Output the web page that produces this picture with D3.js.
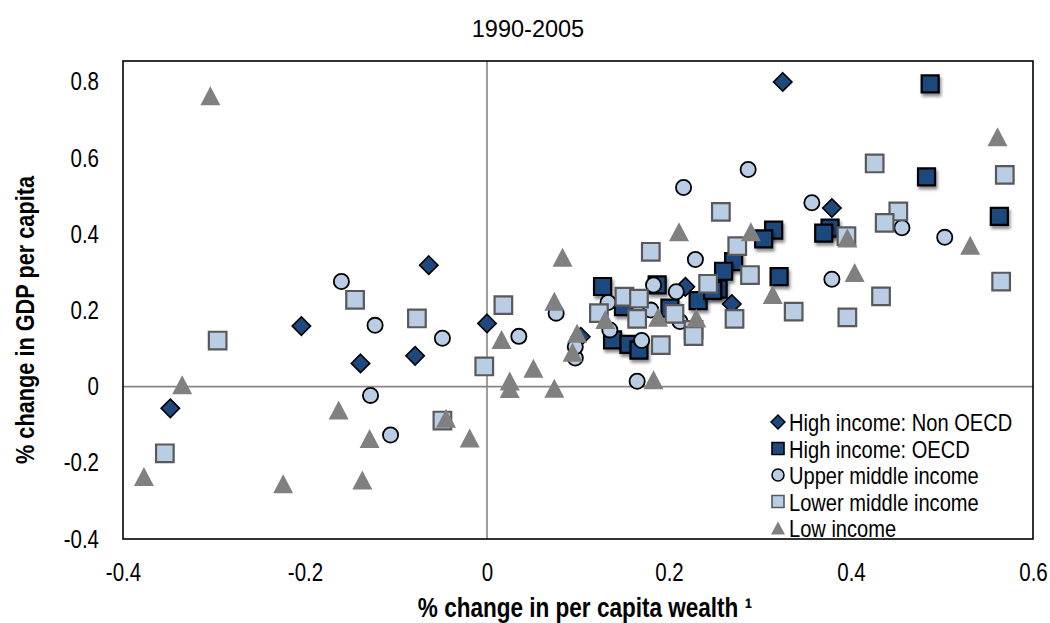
<!DOCTYPE html>
<html>
<head>
<meta charset="utf-8">
<script src="https://cdn.jsdelivr.net/npm/d3@7"></script>
<style>
  body { margin: 0; background: #fff; }
  svg text { fill: #000; }
</style>
</head>
<body>
<div id="chart"></div>
<script>
// chart values
const titleText = "1990-2005";
const xTicks = [-0.4, -0.2, 0, 0.2, 0.4, 0.6];
const xTickLabels = ["-0.4", "-0.2", "0", "0.2", "0.4", "0.6"];
const yTicks = [-0.4, -0.2, 0, 0.2, 0.4, 0.6, 0.8];
const yTickLabels = ["-0.4", "-0.2", "0", "0.2", "0.4", "0.6", "0.8"];
const seriesNames = ["High income: Non OECD", "High income: OECD", "Upper middle income", "Lower middle income", "Low income"];

const nonOecd = [
  [0.325, 0.800], [0.379, 0.469], [0.218, 0.262], [0.269, 0.217], [0.103, 0.131],
  [-0.064, 0.319], [-0.204, 0.159], [-0.139, 0.061], [-0.079, 0.081], [0.000, 0.166],
  [-0.348, -0.057]
];
const oecd = [
  [0.487, 0.795], [0.483, 0.551], [0.563, 0.447], [0.315, 0.411], [0.304, 0.388],
  [0.377, 0.416], [0.370, 0.403], [0.321, 0.289], [0.271, 0.328], [0.260, 0.303],
  [0.254, 0.256], [0.232, 0.226], [0.201, 0.206], [0.127, 0.263], [0.150, 0.210],
  [0.138, 0.123], [0.156, 0.111], [0.167, 0.096], [0.187, 0.267], [0.248, 0.253]
];
const upperMiddle = [
  [0.287, 0.570], [0.216, 0.523], [0.357, 0.483], [0.456, 0.417], [0.503, 0.392],
  [0.379, 0.282], [0.229, 0.334], [0.183, 0.267], [0.208, 0.249], [0.133, 0.221],
  [0.135, 0.149], [0.170, 0.121], [0.165, 0.014], [0.097, 0.075], [0.097, 0.105],
  [0.076, 0.193], [0.035, 0.132], [-0.049, 0.127], [-0.123, 0.161], [-0.160, 0.276],
  [-0.128, -0.023], [-0.106, -0.127], [0.212, 0.171], [0.180, 0.201]
];
const lowerMiddle = [
  [0.426, 0.586], [0.569, 0.556], [0.452, 0.460], [0.437, 0.430], [0.395, 0.395],
  [0.257, 0.459], [0.275, 0.369], [0.289, 0.293], [0.180, 0.354], [0.243, 0.270],
  [0.151, 0.236], [0.167, 0.231], [0.123, 0.193], [0.165, 0.178], [0.206, 0.191],
  [0.227, 0.149], [0.227, 0.133], [0.272, 0.178], [0.191, 0.109], [0.337, 0.197],
  [0.396, 0.182], [0.433, 0.237], [0.565, 0.276], [0.018, 0.214], [-0.003, 0.053],
  [-0.077, 0.179], [-0.145, 0.228], [-0.296, 0.121], [-0.354, -0.175], [-0.049, -0.089]
];
const lowIncome = [
  [-0.304, 0.764], [0.561, 0.656], [0.531, 0.371], [0.396, 0.390], [0.404, 0.300],
  [0.314, 0.242], [0.290, 0.407], [0.211, 0.407], [0.230, 0.180], [0.188, 0.182],
  [0.130, 0.176], [0.099, 0.140], [0.094, 0.090], [0.183, 0.018], [0.083, 0.340],
  [0.074, 0.224], [0.016, 0.124], [0.051, 0.048], [0.025, 0.015], [0.025, -0.005],
  [0.074, -0.004], [-0.019, -0.135], [-0.045, -0.083], [-0.129, -0.136], [-0.163, -0.061],
  [-0.137, -0.245], [-0.224, -0.255], [-0.377, -0.236], [-0.335, 0.005]
];

const W = 1050, H = 623;
const plot = { left: 123, right: 1033, top: 61, bottom: 539 };
// no narrow face installed, so Liberation Sans squeezed horizontally
const sans = "'Liberation Sans',Arial,sans-serif";
const squeeze = 0.82;

const svg = d3.select("#chart").append("svg")
  .attr("width", W).attr("height", H);

// soft shadow under the dark squares
const filt = svg.append("defs").append("filter").attr("id", "shadow")
  .attr("x", "-50%").attr("y", "-50%").attr("width", "200%").attr("height", "200%");
filt.append("feDropShadow").attr("dx", 1.5).attr("dy", 3).attr("stdDeviation", 1.8)
  .attr("flood-color", "#000").attr("flood-opacity", 0.45);

const x = d3.scaleLinear().domain([-0.4, 0.6]).range([plot.left, plot.right]);
const y = d3.scaleLinear().domain([-0.4, 0.855]).range([plot.bottom, plot.top]);

// zero lines
svg.append("line")
  .attr("x1", plot.left).attr("x2", plot.right)
  .attr("y1", y(0)).attr("y2", y(0))
  .attr("stroke", "#868686").attr("stroke-width", 1.6);
svg.append("line")
  .attr("x1", x(0)).attr("x2", x(0))
  .attr("y1", plot.top).attr("y2", plot.bottom)
  .attr("stroke", "#868686").attr("stroke-width", 1.6);

// axes (labels only)
const xAxis = svg.append("g")
  .attr("transform", "translate(0," + plot.bottom + ")")
  .call(d3.axisBottom(x).tickValues(xTicks).tickSize(0).tickPadding(24)
    .tickFormat((d, i) => xTickLabels[i]));
xAxis.select(".domain").remove();
xAxis.selectAll("text")
  .attr("font-family", sans).attr("font-size", 25).attr("fill", "#000")
  .attr("transform", "scale(" + squeeze + ",1)");

const yAxis = svg.append("g")
  .attr("transform", "translate(" + plot.left + ",0)")
  .call(d3.axisLeft(y).tickValues(yTicks).tickSize(0)
    .tickFormat((d, i) => yTickLabels[i]));
yAxis.select(".domain").remove();
yAxis.selectAll("text")
  .attr("font-family", sans).attr("font-size", 25).attr("fill", "#000")
  .attr("x", -24 / squeeze)
  .attr("transform", "scale(" + squeeze + ",1)");

// markers
const sym = {
  diamond: (s) => `M0,${-s}L${s},0L0,${s}L${-s},0Z`,
  square: (s) => `M${-s},${-s}H${s}V${s}H${-s}Z`,
  triangle: (w, h) => `M0,${-h / 2}L${w / 2},${h / 2}L${-w / 2},${h / 2}Z`,
  circle: (r) => `M${r},0A${r},${r} 0 1,1 ${-r},0A${r},${r} 0 1,1 ${r},0Z`
};

function drawSeries(data, pathStr, fill, stroke, sw, filter) {
  svg.append("g").selectAll("path").data(data).enter().append("path")
    .attr("d", pathStr)
    .attr("transform", d => "translate(" + x(d[0]) + "," + y(d[1]) + ")")
    .attr("fill", fill)
    .attr("stroke", stroke)
    .attr("stroke-width", sw)
    .attr("filter", filter || null);
}

drawSeries(oecd, sym.square(8.5), "#1f497d", "#000", 2.2, "url(#shadow)");
drawSeries(nonOecd, sym.diamond(9.2), "#1f497d", "#000", 1.6);
drawSeries(upperMiddle, sym.circle(7.6), "#b9cde5", "#000", 1.8);
drawSeries(lowerMiddle, sym.square(8.8), "#b9cde5", "#595959", 2.2);
drawSeries(lowIncome, sym.triangle(20, 19), "#808080", "none", 0);

// plot border
svg.append("rect")
  .attr("x", plot.left).attr("y", plot.top)
  .attr("width", plot.right - plot.left).attr("height", plot.bottom - plot.top)
  .attr("fill", "none").attr("stroke", "#000").attr("stroke-width", 1.6);

// title
svg.append("text")
  .attr("x", 528).attr("y", 37)
  .attr("text-anchor", "middle")
  .attr("font-family", sans)
  .attr("font-size", 23.5)
  .text(titleText);

// axis titles
svg.append("text")
  .attr("transform", "translate(585,617) scale(" + squeeze + ",1)")
  .attr("text-anchor", "middle")
  .attr("font-family", sans).attr("font-weight", "bold").attr("font-size", 27.5)
  .text("% change in per capita wealth \u00b9");

svg.append("text")
  .attr("transform", "translate(34,320) rotate(-90) scale(" + squeeze + ",1)")
  .attr("text-anchor", "middle")
  .attr("font-family", sans).attr("font-weight", "bold").attr("font-size", 26.5)
  .text("% change in GDP per capita");

// legend
const legend = svg.append("g").attr("transform", "translate(778,422)");
const legendShapes = [
  { d: sym.diamond(7), fill: "#1f497d", stroke: "#000", sw: 1.4 },
  { d: sym.square(6), fill: "#1f497d", stroke: "#000", sw: 1.6 },
  { d: sym.circle(6), fill: "#b9cde5", stroke: "#000", sw: 1.5 },
  { d: sym.square(6), fill: "#b9cde5", stroke: "#595959", sw: 1.6 },
  { d: sym.triangle(14, 13), fill: "#808080", stroke: "none", sw: 0 }
];
seriesNames.forEach((name, i) => {
  const row = legend.append("g").attr("transform", "translate(0," + (i * 26.5) + ")");
  row.append("path").attr("d", legendShapes[i].d)
    .attr("fill", legendShapes[i].fill).attr("stroke", legendShapes[i].stroke)
    .attr("stroke-width", legendShapes[i].sw);
  row.append("text")
    .attr("transform", "translate(11,9) scale(" + squeeze + ",1)")
    .attr("font-family", sans).attr("font-size", 24.5)
    .text(name);
});
</script>
</body>
</html>
